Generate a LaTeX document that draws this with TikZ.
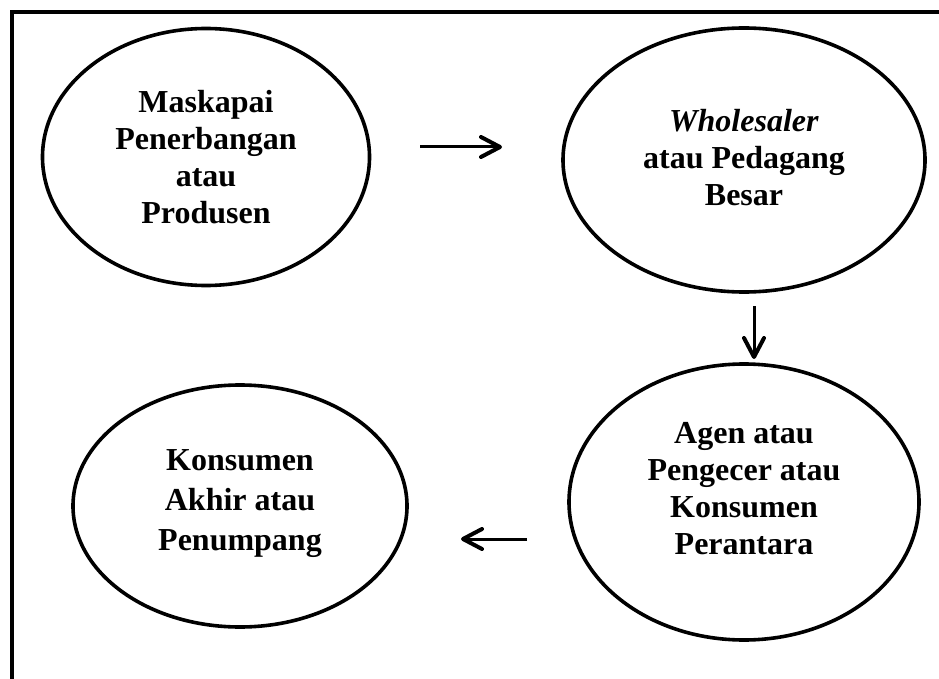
\documentclass[tikz,border=0pt]{standalone}
\usepackage{fontspec}
\setmainfont{Liberation Serif}
\usetikzlibrary{shapes.geometric}
\tikzset{
  oval/.style={draw, ellipse, line width=3.6pt, inner sep=0pt},
  txt/.style={align=center, font=\fontsize{32}{37}\selectfont\bfseries},
  flow/.style={line width=3pt},
  barb/.style={line width=4pt, line cap=round, line join=round},
  frame/.style={line width=4pt}
}
\begin{document}
\begin{tikzpicture}[x=1pt,y=-1pt]
\useasboundingbox (0,0) rectangle (939,679);
\draw[frame] (12,679) -- (12,12) -- (939,12);
\node[oval, minimum width=327pt, minimum height=257pt] (prod) at (206,157) {};
\node[txt] (prodt) at (prod.center) {Maskapai\\Penerbangan\\atau\\Produsen};
\node[oval, minimum width=362pt, minimum height=264pt] (whole) at (744,160) {};
\node[txt] (wholet) at ([yshift=2pt]whole.center) {\textit{Wholesaler}\\atau Pedagang\\Besar};
\node[oval, minimum width=350pt, minimum height=276pt] (agen) at (744,502) {};
\node[txt] (agent) at ([yshift=13pt]agen.center) {Agen atau\\Pengecer atau\\Konsumen\\Perantara};
\node[oval, minimum width=334pt, minimum height=242pt] (kons) at (240,506) {};
\node[txt, font=\fontsize{32}{40}\selectfont\bfseries] (konst) at ([yshift=2pt]kons.center) {Konsumen\\Akhir atau\\Penumpang};
% arrow 1 (right)
\coordinate (a1s) at (420,147);
\coordinate (a1e) at (500,147);
\draw[flow] (a1s) -- (a1e);
\draw[barb] ([shift={(-19,-10)}]a1e) -- (a1e) -- ([shift={(-19,10)}]a1e);
% arrow 2 (down)
\coordinate (a2s) at (754,306);
\coordinate (a2e) at (754,357);
\draw[flow] (a2s) -- (a2e);
\draw[barb] ([shift={(-10,-19)}]a2e) -- (a2e) -- ([shift={(10,-19)}]a2e);
% arrow 3 (left)
\coordinate (a3s) at (527,539);
\coordinate (a3e) at (463,539);
\draw[flow] (a3s) -- (a3e);
\draw[barb] ([shift={(19,-10)}]a3e) -- (a3e) -- ([shift={(19,10)}]a3e);
\end{tikzpicture}
\end{document}
